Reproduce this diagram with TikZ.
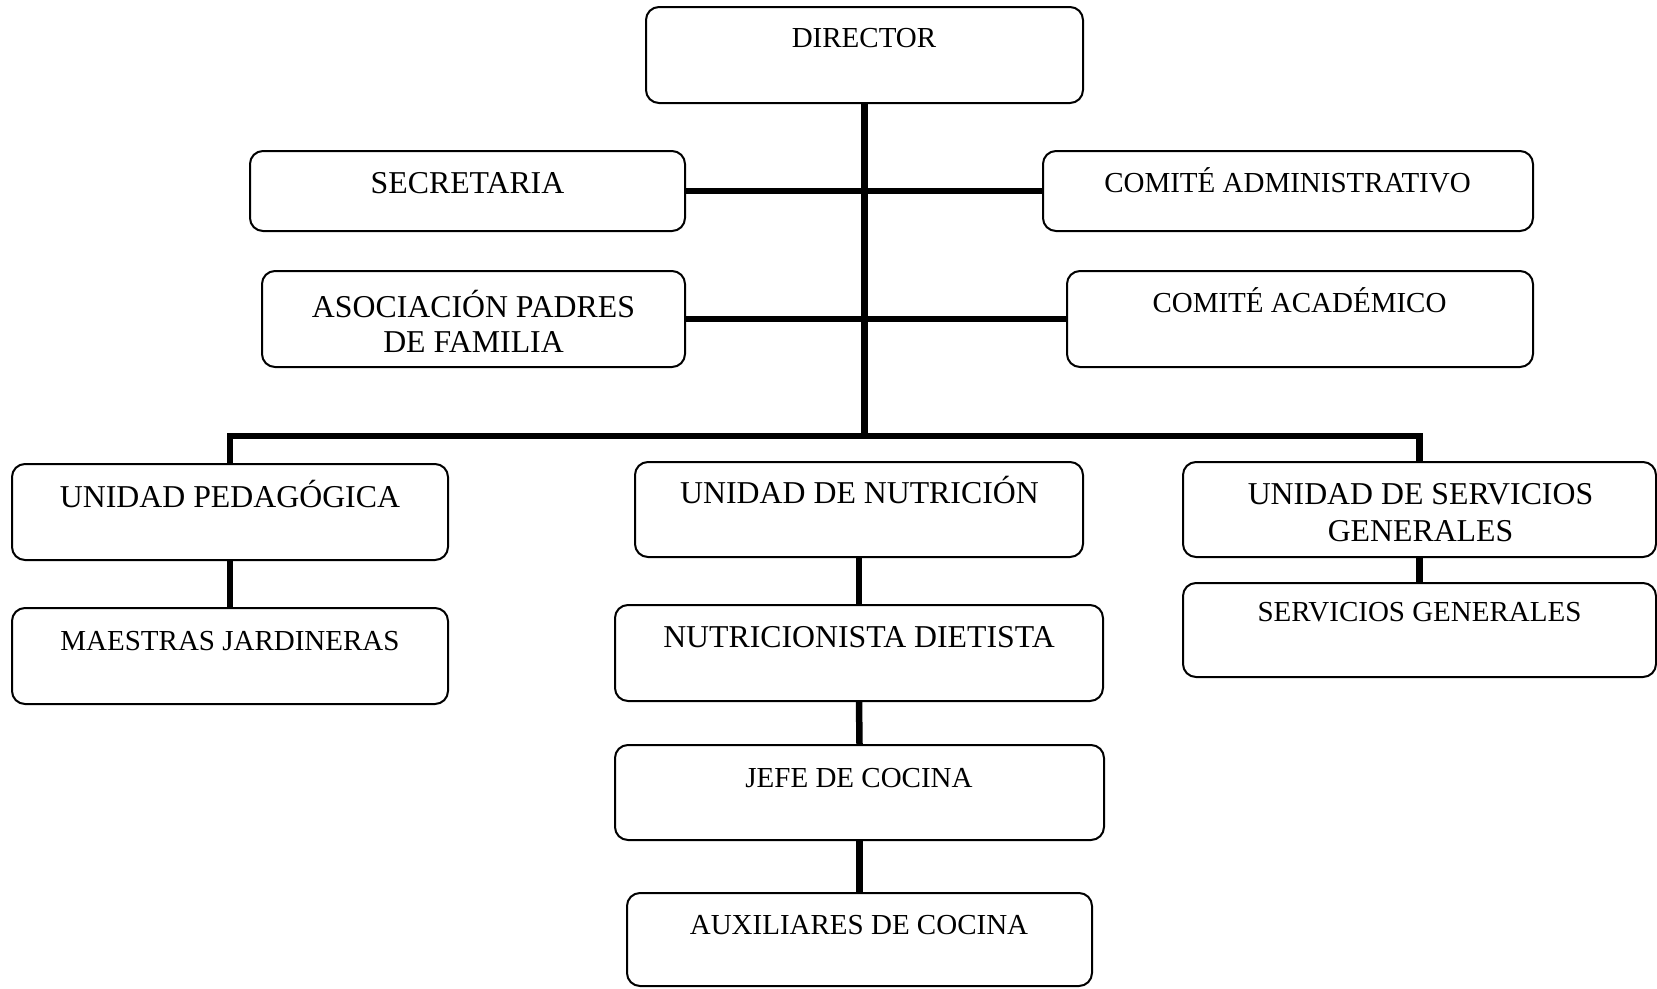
\documentclass[tikz,border=0pt]{standalone}
\usepackage{fontspec}
\setmainfont{Liberation Serif}
\begin{document}
\begin{tikzpicture}[x=1pt,y=-1pt,
  orgbox/.style={draw=black, line width=2pt, rounded corners=13pt, rectangle, inner sep=0pt, fill=white},
  conn/.style={draw=black, line width=6.5pt},
  smalltxt/.style={inner sep=0pt, anchor=base, font=\fontsize{29}{35}\selectfont},
  bigtxt/.style={inner sep=0pt, anchor=base, font=\fontsize{31.8}{35}\selectfont}]
\useasboundingbox (0,0) rectangle (1657,988);
% boxes
\node[orgbox, minimum width=437pt, minimum height=96pt] (dir) at (864.5,55) {};
\node[orgbox, minimum width=435pt, minimum height=80pt] (sec) at (467.5,191) {};
\node[orgbox, minimum width=490pt, minimum height=80pt] (cadm) at (1288,191) {};
\node[orgbox, minimum width=423pt, minimum height=96pt] (apf) at (473.5,319) {};
\node[orgbox, minimum width=466pt, minimum height=96pt] (cacad) at (1300,319) {};
\node[orgbox, minimum width=436pt, minimum height=96pt] (uped) at (230,512) {};
\node[orgbox, minimum width=436pt, minimum height=96pt] (mj) at (230,656) {};
\node[orgbox, minimum width=448pt, minimum height=95pt] (unut) at (859,509.5) {};
\node[orgbox, minimum width=488pt, minimum height=96pt] (nd) at (859,653) {};
\node[orgbox, minimum width=489pt, minimum height=95pt] (jc) at (859.5,792.5) {};
\node[orgbox, minimum width=465pt, minimum height=93pt] (ac) at (859.5,939.5) {};
\node[orgbox, minimum width=473pt, minimum height=95pt] (usg) at (1419.5,509.5) {};
\node[orgbox, minimum width=473pt, minimum height=94pt] (sg) at (1419.5,630) {};
% texts
\node[smalltxt] (dir-t) at (864,47) {DIRECTOR};
\node[bigtxt] (sec-t) at (467.5,193) {SECRETARIA};
\node[smalltxt] (cadm-t) at (1287.5,192) {COMITÉ ADMINISTRATIVO};
\node[bigtxt] (apf-t1) at (473.5,317) {ASOCIACIÓN PADRES};
\node[bigtxt] (apf-t2) at (473.5,352) {DE FAMILIA};
\node[smalltxt] (cacad-t) at (1299.5,312) {COMITÉ ACADÉMICO};
\node[bigtxt] (uped-t) at (230,507) {UNIDAD PEDAGÓGICA};
\node[smalltxt] (mj-t) at (230,650) {MAESTRAS JARDINERAS};
\node[bigtxt] (unut-t) at (859.5,503) {UNIDAD DE NUTRICIÓN};
\node[bigtxt] (nd-t) at (859,647) {NUTRICIONISTA DIETISTA};
\node[smalltxt] (jc-t) at (859,787) {JEFE DE COCINA};
\node[smalltxt] (ac-t) at (859,934) {AUXILIARES DE COCINA};
\node[bigtxt] (usg-t1) at (1420.5,504) {UNIDAD DE SERVICIOS};
\node[bigtxt] (usg-t2) at (1420.5,541) {GENERALES};
\node[smalltxt] (sg-t) at (1419.5,621) {SERVICIOS GENERALES};
% connectors
\coordinate (bus) at (864.5,436);
\draw[conn] (dir.south) -- (bus);
\draw[conn] (sec.east) -- (cadm.west);
\draw[conn] (apf.east) -- (cacad.west);
\draw[conn] (uped.north) |- (bus) -| (usg.north);
\draw[conn] (uped.south) -- (mj.north);
\draw[conn] (unut.south) -- (nd.north);
\draw[conn] (nd.south) -- (jc.north);
\draw[conn] (jc.south) -- (ac.north);
\draw[conn] (usg.south) -- (sg.north);
\end{tikzpicture}
\end{document}
